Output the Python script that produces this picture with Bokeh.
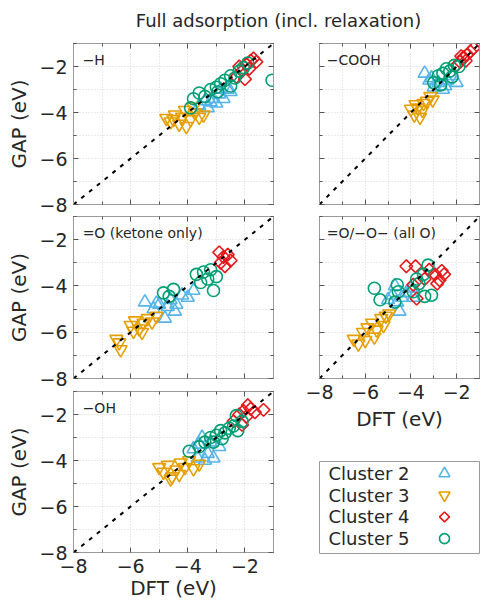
import numpy as np
from bokeh.plotting import figure
from bokeh.models import FixedTicker, LinearAxis, Range1d, Label
from bokeh.layouts import column, row
from bokeh.embed import file_html
from bokeh.resources import INLINE
from bokeh.core.properties import value

FONT = "DejaVu Sans"
TXT = "#262626"

# ---------------- data ----------------
clusters = ["Cluster 2", "Cluster 3", "Cluster 4", "Cluster 5"]
colors = ["#56B4E9", "#E69F00", "#E41A1C", "#009E73"]

tick_vals = [-8, -6, -4, -2]
tick_labels = ["−8", "−6", "−4", "−2"]
minor_vals = [-7, -5, -3, -1]
diag = [-8, -1]

# panel -H
h_c2_x = [-3.6, -3.4, -3.3, -3.15, -3.0, -2.9, -2.75, -2.6, -2.5, -3.2, -2.85]
h_c2_y = [-3.7, -3.5, -3.8, -3.4, -3.6, -3.2, -3.4, -3.0, -3.1, -3.55, -3.0]
h_c3_x = [-4.75, -4.6, -4.45, -4.3, -4.2, -4.05, -3.9, -3.75, -3.6, -3.45, -4.5, -4.1, -3.8]
h_c3_y = [-4.25, -4.4, -4.1, -4.5, -4.2, -4.6, -4.3, -4.0, -4.2, -4.1, -4.3, -3.9, -3.75]
h_c4_x = [-2.3, -2.1, -1.95, -1.8, -1.7, -1.6, -2.0, -1.85, -2.2]
h_c4_y = [-2.45, -2.2, -1.9, -1.75, -1.65, -1.8, -2.55, -2.1, -2.0]
h_c5_x = [-3.9, -3.8, -3.6, -3.4, -3.2, -3.0, -2.85, -2.7, -2.5, -2.35, -2.2, -2.5, -2.05, -1.9, -2.95, -1.05]
h_c5_y = [-3.8, -3.4, -3.15, -3.3, -3.0, -2.9, -2.75, -2.6, -2.4, -2.5, -2.2, -2.85, -2.05, -1.85, -3.1, -2.6]

# panel -COOH
cooh_c2_x = [-3.4, -3.2, -3.0, -2.8, -2.6, -2.4, -2.2, -2.0, -3.1, -2.5]
cooh_c2_y = [-2.3, -2.6, -2.9, -2.7, -3.0, -2.6, -2.4, -2.7, -2.5, -2.85]
cooh_c3_x = [-4.0, -3.85, -3.7, -3.6, -3.45, -3.3, -3.15, -3.05, -3.8, -3.5]
cooh_c3_y = [-3.85, -4.1, -3.8, -4.2, -3.6, -3.5, -3.3, -3.45, -3.65, -3.9]
cooh_c4_x = [-2.0, -1.85, -1.7, -1.55, -1.4, -1.25, -1.6, -1.8]
cooh_c4_y = [-1.95, -1.8, -1.6, -1.5, -1.35, -1.2, -1.75, -1.55]
cooh_c5_x = [-3.0, -2.8, -2.6, -2.45, -2.3, -2.1, -1.9, -2.7, -2.2]
cooh_c5_y = [-2.7, -2.4, -2.3, -2.1, -2.2, -1.95, -2.0, -2.8, -2.45]

# panel =O (ketone only)
ket_c2_x = [-5.5, -5.2, -5.0, -4.8, -4.6, -4.4, -4.2, -4.0, -3.8, -4.7, -4.45, -5.1]
ket_c2_y = [-4.7, -5.0, -4.8, -5.4, -4.6, -4.8, -4.4, -4.5, -4.2, -4.9, -5.1, -4.75]
ket_c3_x = [-6.5, -6.35, -6.0, -5.85, -5.7, -5.55, -5.4, -5.25, -5.1, -5.9, -5.6, -6.4]
ket_c3_y = [-6.3, -6.75, -5.7, -5.5, -5.85, -5.6, -5.4, -5.55, -5.3, -5.95, -6.0, -6.45]
ket_c4_x = [-2.9, -2.75, -2.6, -2.5, -2.7, -2.85]
ket_c4_y = [-2.55, -2.75, -2.65, -2.9, -3.15, -3.0]
ket_c5_x = [-4.85, -4.5, -4.65, -3.7, -3.55, -3.3, -3.2, -3.1, -3.45, -3.0]
ket_c5_y = [-4.3, -4.15, -4.45, -3.5, -3.85, -3.7, -3.3, -4.2, -3.4, -3.6]

# panel =O/-O- (all O)
allo_c2_x = [-5.0, -4.8, -4.6, -4.4, -4.2, -4.0, -4.5, -3.9, -4.7]
allo_c2_y = [-4.6, -4.4, -4.7, -4.5, -4.3, -4.1, -5.1, -4.5, -4.0]
allo_c3_x = [-6.5, -6.3, -6.1, -5.9, -5.7, -5.5, -5.3, -5.1, -4.95, -5.6, -6.0, -5.2]
allo_c3_y = [-6.3, -6.5, -6.0, -5.8, -5.6, -5.9, -5.4, -5.3, -5.2, -6.2, -6.35, -5.7]
allo_c4_x = [-4.2, -3.8, -3.75, -3.9, -3.4, -2.95, -2.75, -2.55, -2.85, -2.65, -3.2]
allo_c4_y = [-3.15, -3.15, -4.55, -3.95, -3.7, -3.5, -3.75, -3.5, -3.9, -3.35, -3.3]
allo_c5_x = [-5.6, -5.35, -4.6, -4.55, -4.7, -3.75, -3.25, -3.65, -3.1, -3.4, -3.45, -3.9]
allo_c5_y = [-4.1, -4.6, -3.95, -4.25, -4.7, -3.7, -3.1, -3.9, -4.4, -4.45, -3.5, -4.25]

# panel -OH
oh_c2_x = [-3.8, -3.6, -3.5, -3.3, -3.1, -3.4, -3.2, -2.9, -3.65]
oh_c2_y = [-3.5, -3.3, -3.0, -3.7, -3.9, -4.0, -3.2, -3.4, -3.9]
oh_c3_x = [-5.0, -4.85, -4.7, -4.55, -4.4, -4.25, -4.1, -3.95, -3.8, -3.6, -4.6, -4.3]
oh_c3_y = [-4.3, -4.5, -4.2, -4.7, -4.4, -4.1, -4.3, -4.0, -4.35, -4.15, -4.8, -4.6]
oh_c4_x = [-2.4, -2.2, -2.05, -1.95, -1.8, -1.65, -2.1, -1.35, -1.9]
oh_c4_y = [-2.3, -2.0, -1.85, -2.1, -1.75, -1.9, -2.45, -1.8, -1.6]
oh_c5_x = [-3.95, -3.6, -3.4, -3.2, -3.0, -2.85, -2.7, -2.55, -2.4, -2.25, -2.1, -2.8, -2.3, -3.1]
oh_c5_y = [-3.6, -3.4, -3.2, -3.0, -2.9, -2.7, -2.8, -2.6, -2.5, -2.7, -2.3, -3.05, -2.05, -3.2]

title_text = "Full adsorption (incl. relaxation)"
x_title = "DFT (eV)"
y_title = "GAP (eV)"

# ---------------- styles ----------------
MARKERS = ["triangle", "inverted_triangle", "square", "circle"]
ANGLES = [0.0, 0.0, np.pi / 4, 0.0]
SIZES = [13, 13, 9, 12]


def style_axis(ax, show, label=None, label_standoff=6, title_standoff=0):
    ax.ticker = FixedTicker(ticks=tick_vals, minor_ticks=minor_vals)
    ax.axis_line_color = "#9a9a9a"
    ax.major_tick_line_color = "#555555"
    ax.minor_tick_line_color = "#555555"
    ax.major_tick_in = 5
    ax.major_tick_out = 0
    ax.minor_tick_in = 3
    ax.minor_tick_out = 0
    ax.major_label_text_font = FONT
    ax.major_label_text_color = TXT
    if show:
        ax.major_label_overrides = {v: t for v, t in zip(tick_vals, tick_labels)}
        ax.major_label_text_font_size = "19px"
        ax.major_label_standoff = label_standoff
    else:
        ax.major_label_overrides = {v: "" for v in tick_vals}
        ax.major_label_text_font_size = "1px"
        ax.major_label_standoff = 0
    if label:
        ax.axis_label = label
        ax.axis_label_text_font = FONT
        ax.axis_label_text_font_size = "20px"
        ax.axis_label_text_font_style = "normal"
        ax.axis_label_text_color = TXT
        ax.axis_label_standoff = title_standoff


def make_panel(name, series, W, H, bl, br, bt, bb, show_x, show_y,
               x_std=6, x_title_std=0):
    p = figure(width=W, height=H, x_range=Range1d(-8, -1), y_range=Range1d(-8, -1),
               toolbar_location=None, output_backend="svg",
               min_border_left=bl, min_border_right=br,
               min_border_top=bt, min_border_bottom=bb)
    p.outline_line_color = "#9a9a9a"
    style_axis(p.xaxis[0], show_x, x_title if show_x else None, x_std, x_title_std)
    style_axis(p.yaxis[0], show_y, y_title if show_y else None, 6, 5)
    top = LinearAxis()
    style_axis(top, False)
    p.add_layout(top, "above")
    right = LinearAxis()
    style_axis(right, False)
    p.add_layout(right, "right")
    for g in (p.xgrid[0], p.ygrid[0]):
        g.grid_line_color = "#d4d4d4"
        g.grid_line_dash = "1 2"
        g.minor_grid_line_color = "#d4d4d4"
        g.minor_grid_line_dash = "1 2"

    for (xs, ys), col, mk, ang, sz in zip(series, colors, MARKERS, ANGLES, SIZES):
        p.scatter(xs, ys, marker=mk, angle=ang, size=sz, fill_color=None,
                  line_color=col, line_width=1.6)
    p.line(diag, diag, line_color="black", line_width=2, line_dash="4 6")
    p.add_layout(Label(x=-7.68, y=-1.72, text=name, text_font=FONT,
                       text_font_size="14px", text_color=TXT, text_baseline="middle"))
    return p


# left column: x 0..288, right column: x 288..488
p1 = make_panel("−H", [(h_c2_x, h_c2_y), (h_c3_x, h_c3_y), (h_c4_x, h_c4_y), (h_c5_x, h_c5_y)],
                288, 175, 73, 15, 2, 12, False, True)
p3 = make_panel("=O (ketone only)", [(ket_c2_x, ket_c2_y), (ket_c3_x, ket_c3_y),
                                     (ket_c4_x, ket_c4_y), (ket_c5_x, ket_c5_y)],
                288, 175, 73, 15, 0, 13, False, True)
p5 = make_panel("−OH", [(oh_c2_x, oh_c2_y), (oh_c3_x, oh_c3_y),
                        (oh_c4_x, oh_c4_y), (oh_c5_x, oh_c5_y)],
                288, 212, 73, 15, 0, 51, True, True, x_std=6, x_title_std=0)

p2 = make_panel("−COOH", [(cooh_c2_x, cooh_c2_y), (cooh_c3_x, cooh_c3_y),
                          (cooh_c4_x, cooh_c4_y), (cooh_c5_x, cooh_c5_y)],
                200, 175, 0, 0, 2, 12, False, False)
p4 = make_panel("=O/−O− (all O)", [(allo_c2_x, allo_c2_y), (allo_c3_x, allo_c3_y),
                                    (allo_c4_x, allo_c4_y), (allo_c5_x, allo_c5_y)],
                200, 222, 0, 0, 0, 60, True, False, x_std=6, x_title_std=5)

# ---------------- title ----------------
tfig = figure(width=488, height=41, x_range=Range1d(0, 488), y_range=Range1d(0, 41),
              toolbar_location=None, output_backend="svg", min_border=0)
tfig.axis.visible = False
tfig.grid.visible = False
tfig.outline_line_color = None
tfig.add_layout(Label(x=278, y=21, text=title_text, text_font=FONT, text_font_size="18px",
                      text_color=TXT, text_align="center", text_baseline="middle"))

# ---------------- legend ----------------
leg = figure(width=200, height=120, x_range=Range1d(0, 160), y_range=Range1d(0, 92),
             toolbar_location=None, output_backend="svg",
             min_border_left=31, min_border_right=9, min_border_top=23, min_border_bottom=5)
leg.axis.visible = False
leg.grid.visible = False
leg.outline_line_color = "#9a9a9a"
row_y = [92 - 12 - i * 21.7 for i in range(len(clusters))]
leg.text([9] * len(clusters), row_y, text=clusters, text_font=value(FONT),
         text_font_size="18px", text_color=TXT, text_baseline="middle")
for i, (col, mk, ang, sz) in enumerate(zip(colors, MARKERS, ANGLES, SIZES)):
    leg.scatter([125], [row_y[i]], marker=mk, angle=ang, size=sz - 2, fill_color=None,
                line_color=col, line_width=1.6)

layout = column(tfig, row(column(p1, p3, p5), column(p2, p4, leg)))

open("out.html", "w").write(file_html(layout, INLINE))
